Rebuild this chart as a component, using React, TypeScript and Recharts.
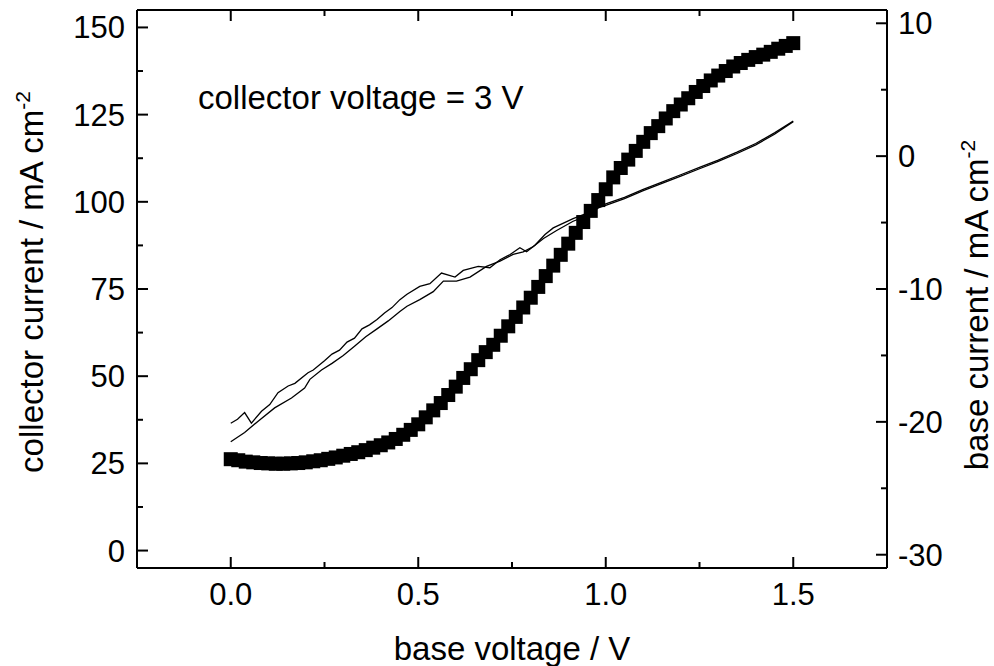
import React from 'react';
import { ComposedChart, XAxis, YAxis, Line, Scatter } from 'recharts';

// collector current (left axis) vs base voltage
const voltage = [
  0, 0.02, 0.04, 0.06, 0.08, 0.1, 0.12, 0.14, 0.16, 0.18,
  0.2, 0.22, 0.24, 0.26, 0.28, 0.3, 0.32, 0.34, 0.36, 0.38,
  0.4, 0.42, 0.44, 0.46, 0.48, 0.5, 0.52, 0.54, 0.56, 0.58,
  0.6, 0.62, 0.64, 0.66, 0.68, 0.7, 0.72, 0.74, 0.76, 0.78,
  0.8, 0.82, 0.84, 0.86, 0.88, 0.9, 0.92, 0.94, 0.96, 0.98,
  1.0, 1.02, 1.04, 1.06, 1.08, 1.1, 1.12, 1.14, 1.16, 1.18,
  1.2, 1.22, 1.24, 1.26, 1.28, 1.3, 1.32, 1.34, 1.36, 1.38,
  1.4, 1.42, 1.44, 1.46, 1.48, 1.5,
];
const collectorCurrent = [
  26.2, 25.9, 25.5, 25.3, 25.1, 25.0, 24.9, 24.9, 25.0, 25.1,
  25.3, 25.6, 25.9, 26.3, 26.7, 27.2, 27.7, 28.2, 28.8, 29.5,
  30.2, 31.0, 32.0, 33.2, 34.6, 36.2, 38.2, 40.2, 42.3, 44.6,
  47.0, 49.5, 52.0, 54.6, 56.9, 59.0, 61.6, 64.3, 67.0, 69.7,
  72.5, 75.6, 78.7, 81.7, 84.8, 88.0, 91.1, 94.2, 97.4, 100.5,
  103.6, 107.0, 109.7, 112.1, 114.6, 117.2, 119.7, 121.7, 123.9, 126.0,
  127.9, 129.7, 131.5, 133.2, 134.8, 136.2, 137.5, 138.8, 139.8, 140.7,
  141.5, 142.2, 143.0, 143.9, 144.7, 145.5,
];

// base current (right axis), two sweeps
const sweepAVoltage = [
  0, 0.018, 0.037, 0.055, 0.082, 0.104, 0.126, 0.153, 0.171, 0.206,
  0.22, 0.25, 0.27, 0.29, 0.31, 0.33, 0.35, 0.37, 0.39, 0.41,
  0.43, 0.451, 0.47, 0.504, 0.531, 0.562, 0.598, 0.62, 0.66, 0.691,
  0.718, 0.745, 0.771, 0.789, 0.811, 0.838, 0.86, 0.913, 0.949, 0.985,
  1.0, 1.05, 1.1, 1.15, 1.2, 1.25, 1.3, 1.35, 1.4, 1.45, 1.5,
];
const sweepACurrent = [
  -20.1, -19.8, -19.3, -20.1, -19.2, -18.7, -17.8, -17.3, -17.1, -16.3,
  -16.1, -15.4, -14.9, -14.6, -14.0, -13.7, -13.0, -12.7, -12.3, -11.8,
  -11.4, -10.8, -10.4, -9.8, -9.6, -8.8, -9.1, -8.6, -8.3, -8.4,
  -7.8, -7.4, -6.9, -7.2, -6.7, -5.9, -5.4, -4.7, -4.3, -3.8,
  -3.6, -3.1, -2.5, -1.95, -1.4, -0.85, -0.3, 0.3, 0.95, 1.75, 2.65,
];
const sweepBVoltage = [
  0, 0.037, 0.073, 0.117, 0.162, 0.197, 0.211, 0.242, 0.27, 0.3,
  0.33, 0.36, 0.39, 0.42, 0.451, 0.47, 0.504, 0.54, 0.567, 0.602,
  0.638, 0.682, 0.718, 0.753, 0.78, 0.807, 0.834, 0.869, 0.913, 0.95,
  0.98, 1.0, 1.05, 1.1, 1.15, 1.2, 1.25, 1.3, 1.35, 1.4, 1.45, 1.5,
];
const sweepBCurrent = [
  -21.5, -20.8, -19.95, -18.95, -18.2, -17.45, -16.8, -16.1, -15.6, -15.0,
  -14.3, -13.6, -13.0, -12.4, -11.7, -11.3, -10.8, -10.2, -9.4, -9.4,
  -9.1, -8.3, -7.9, -7.4, -7.2, -6.8, -6.2, -5.6, -4.9, -4.5,
  -3.9, -3.7, -3.2, -2.6, -2.05, -1.5, -0.95, -0.4, 0.2, 0.85, 1.65, 2.6,
];

const xTicks = [0, 0.25, 0.5, 0.75, 1, 1.25, 1.5];
const xLabels = ['0.0', '', '0.5', '', '1.0', '', '1.5'];
const leftTicks = [0, 12.5, 25, 37.5, 50, 62.5, 75, 87.5, 100, 112.5, 125, 137.5, 150];
const rightTicks = [-30, -25, -20, -15, -10, -5, 0, 5, 10];

const collectorData = voltage.map((v, i) => ({ v, ic: collectorCurrent[i] }));
const sweepAData = sweepAVoltage.map((v, i) => ({ v, ib: sweepACurrent[i] }));
const sweepBData = sweepBVoltage.map((v, i) => ({ v, ib: sweepBCurrent[i] }));

const FONT = '"Liberation Sans", Arial, Helvetica, sans-serif';
const TICK_FS = 31;
const TITLE_FS = 33;
const M = 10; // tickMargin used to recover axis line position
const MAJOR = 11;
const MINOR = 6;
const SQ = 14;

const BottomTick = (props: any) => {
  const { x, y, payload } = props;
  const axisY = y - M;
  const idx = xTicks.indexOf(payload.value);
  const label = idx >= 0 ? xLabels[idx] : '';
  const major = label !== '';
  return (
    <g>
      <line x1={x} x2={x} y1={axisY} y2={axisY - (major ? MAJOR : MINOR)} stroke="#000" strokeWidth={2} />
      {major && (
        <text x={x} y={axisY + 37} textAnchor="middle" fontSize={TICK_FS} fontFamily={FONT} fill="#000">
          {label}
        </text>
      )}
    </g>
  );
};

const TopTick = (props: any) => {
  const { x, y, payload } = props;
  const axisY = y + M;
  const idx = xTicks.indexOf(payload.value);
  const major = idx >= 0 && xLabels[idx] !== '';
  return <line x1={x} x2={x} y1={axisY} y2={axisY + (major ? MAJOR : MINOR)} stroke="#000" strokeWidth={2} />;
};

const LeftTick = (props: any) => {
  const { x, y, payload } = props;
  const axisX = x + M;
  const major = payload.value % 25 === 0;
  return (
    <g>
      <line x1={axisX} x2={axisX + (major ? MAJOR : MINOR)} y1={y} y2={y} stroke="#000" strokeWidth={2} />
      {major && (
        <text x={axisX - 12} y={y + 11} textAnchor="end" fontSize={TICK_FS} fontFamily={FONT} fill="#000">
          {payload.value}
        </text>
      )}
    </g>
  );
};

const RightTick = (props: any) => {
  const { x, y, payload } = props;
  const axisX = x - M;
  const major = payload.value % 10 === 0;
  return (
    <g>
      <line x1={axisX} x2={axisX - (major ? MAJOR : MINOR)} y1={y} y2={y} stroke="#000" strokeWidth={2} />
      {major && (
        <text x={axisX + 11} y={y + 11} textAnchor="start" fontSize={TICK_FS} fontFamily={FONT} fill="#000">
          {payload.value}
        </text>
      )}
    </g>
  );
};

const Square = (props: any) => {
  const { cx, cy } = props;
  if (cx == null || cy == null) return null;
  return <rect x={cx - SQ / 2} y={cy - SQ / 2} width={SQ} height={SQ} fill="#000" />;
};

export default function App() {
  return (
    <div style={{ position: 'absolute', left: 0, top: 0, width: 994, height: 666, background: '#fff' }}>
      <ComposedChart width={994} height={666} margin={{ top: 0, right: 7, bottom: 38, left: 37 }}>
        <XAxis
          xAxisId="bottom"
          dataKey="v"
          type="number"
          orientation="bottom"
          domain={[-0.25, 1.75]}
          ticks={xTicks}
          interval={0}
          height={60}
          tickSize={0}
          tickMargin={M}
          tickLine={false}
          axisLine={{ stroke: '#000', strokeWidth: 2 }}
          tick={<BottomTick />}
          allowDataOverflow
        />
        <XAxis
          xAxisId="top"
          dataKey="v"
          type="number"
          orientation="top"
          domain={[-0.25, 1.75]}
          ticks={xTicks}
          interval={0}
          height={10}
          tickSize={0}
          tickMargin={M}
          tickLine={false}
          axisLine={{ stroke: '#000', strokeWidth: 2 }}
          tick={<TopTick />}
          allowDataOverflow
        />
        <YAxis
          yAxisId="left"
          orientation="left"
          type="number"
          domain={[-5, 155]}
          ticks={leftTicks}
          interval={0}
          width={100}
          tickSize={0}
          tickMargin={M}
          tickLine={false}
          axisLine={{ stroke: '#000', strokeWidth: 2 }}
          tick={<LeftTick />}
          allowDataOverflow
        />
        <YAxis
          yAxisId="right"
          orientation="right"
          type="number"
          domain={[-31, 11]}
          ticks={rightTicks}
          interval={0}
          width={100}
          tickSize={0}
          tickMargin={M}
          tickLine={false}
          axisLine={{ stroke: '#000', strokeWidth: 2 }}
          tick={<RightTick />}
          allowDataOverflow
        />
        <Line
          data={sweepAData}
          dataKey="ib"
          xAxisId="bottom"
          yAxisId="right"
          stroke="#000"
          strokeWidth={1.3}
          dot={false}
          activeDot={false}
          type="linear"
          isAnimationActive={false}
        />
        <Line
          data={sweepBData}
          dataKey="ib"
          xAxisId="bottom"
          yAxisId="right"
          stroke="#000"
          strokeWidth={1.3}
          dot={false}
          activeDot={false}
          type="linear"
          isAnimationActive={false}
        />
        <Scatter
          data={collectorData}
          dataKey="ic"
          xAxisId="bottom"
          yAxisId="left"
          fill="#000"
          shape={<Square />}
          isAnimationActive={false}
        />
      </ComposedChart>
      <svg
        width={994}
        height={666}
        style={{ position: 'absolute', left: 0, top: 0, pointerEvents: 'none' }}
      >
        <text x={198} y={109} fontSize={TITLE_FS} fontFamily={FONT} fill="#000">
          collector voltage = 3 V
        </text>
        <text x={512} y={660} textAnchor="middle" fontSize={TITLE_FS} fontFamily={FONT} fill="#000">
          base voltage / V
        </text>
        <text
          x={0}
          y={0}
          textAnchor="middle"
          fontSize={TITLE_FS}
          fontFamily={FONT}
          fill="#000"
          transform="translate(43,282) rotate(-90)"
        >
          collector current / mA cm<tspan fontSize={21} dy={-13}>-2</tspan>
        </text>
        <text
          x={0}
          y={0}
          textAnchor="middle"
          fontSize={TITLE_FS}
          fontFamily={FONT}
          fill="#000"
          transform="translate(988,305) rotate(-90)"
        >
          base current / mA cm<tspan fontSize={21} dy={-13}>-2</tspan>
        </text>
      </svg>
    </div>
  );
}
